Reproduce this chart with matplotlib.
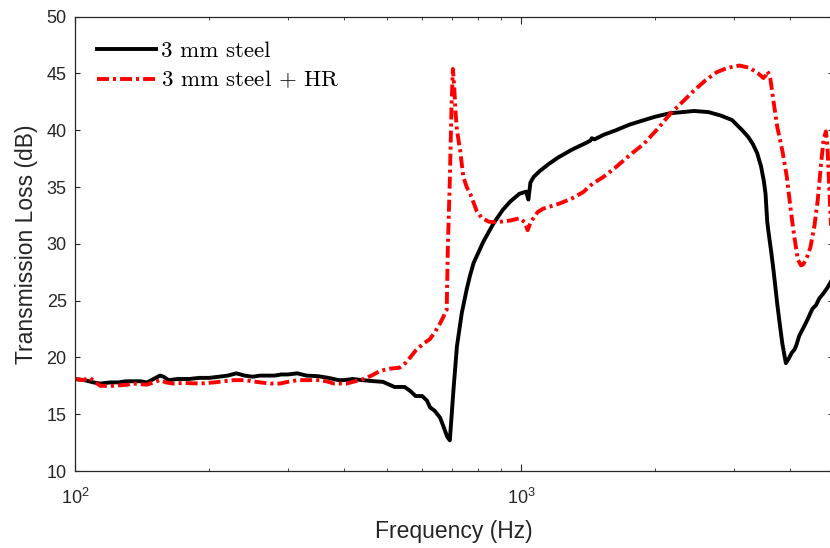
import matplotlib
matplotlib.use("Agg")
import matplotlib.pyplot as plt
from matplotlib.ticker import LogLocator, NullFormatter

# 3 mm steel panel
freq_steel = [100, 105, 110, 114, 120, 125, 130, 135, 140, 145, 150, 155, 158, 162, 170,
              180, 190, 200, 210, 220, 230, 240, 250, 260, 270, 280, 290, 300, 315, 330,
              350, 370, 390, 400, 420, 440, 470, 490, 520, 548, 564, 580, 600, 615, 625,
              640, 658, 670, 683, 692, 706, 718, 736, 755, 768, 782, 823, 867, 910, 944,
              990, 1026, 1038, 1049, 1067, 1100, 1150, 1210, 1300, 1400, 1430, 1440, 1460,
              1530, 1630, 1750, 1887, 2000, 2155, 2300, 2440, 2630, 2800, 2970, 3130, 3230,
              3305, 3380, 3450, 3500, 3530, 3560, 3580, 3640, 3680, 3750, 3800, 3850, 3920,
              3980, 4040, 4100, 4140, 4200, 4290, 4380, 4450, 4500, 4580, 4660, 4750, 4850,
              4950]
tl_steel = [18.1, 18.0, 17.8, 17.7, 17.8, 17.8, 17.9, 17.9, 17.9, 17.8, 18.1, 18.4, 18.3, 18.0, 18.1,
            18.1, 18.2, 18.2, 18.3, 18.4, 18.6, 18.4, 18.3, 18.4, 18.4, 18.4, 18.5, 18.5, 18.6, 18.4,
            18.35, 18.2, 18.0, 18.0, 18.1, 18.0, 17.9, 17.85, 17.4, 17.4, 17.05, 16.6, 16.6, 16.2, 15.6,
            15.3, 14.7, 13.9, 13.0, 12.7, 17.4, 21.0, 23.9, 26.0, 27.2, 28.3, 30.2, 31.8, 33.0, 33.7,
            34.4, 34.6, 33.9, 35.4, 35.9, 36.4, 37.0, 37.6, 38.3, 38.9, 39.1, 39.3, 39.2,
            39.6, 40.0, 40.5, 40.9, 41.2, 41.5, 41.6, 41.7, 41.6, 41.3, 40.9, 40.0, 39.4,
            38.8, 38.0, 36.8, 35.5, 34.4, 32.0, 31.2, 29.1, 27.6, 24.7, 22.9, 21.2, 19.5,
            19.9, 20.4, 20.7, 21.1, 21.9, 22.6, 23.3, 23.9, 24.3, 24.6, 25.2, 25.6, 26.1,
            26.7]

# 3 mm steel + Helmholtz resonators
freq_hr = [100, 104, 108, 111, 114, 118, 122, 126, 131, 135, 140, 145, 150, 155, 160,
           166, 175, 191, 205, 226, 240, 260, 275, 288, 300, 316, 335, 354, 370, 380,
           406, 425, 443, 462, 482, 505, 534, 550, 564, 580, 603, 624, 640, 658, 670,
           677, 681, 685, 692, 698, 703, 706, 709, 713, 718, 730, 742, 755, 769, 795,
           815, 846, 877, 944, 990, 1020, 1034, 1050, 1089, 1121, 1219, 1300, 1377, 1446,
           1530, 1636, 1750, 1883, 2020, 2165, 2300, 2440, 2590, 2740, 2900, 3087, 3250,
           3400, 3490, 3530, 3560, 3600, 3620, 3680, 3750, 3850, 3940, 4030, 4100, 4170,
           4240, 4290, 4370, 4450, 4540, 4620, 4700, 4760, 4820, 4860, 4900, 4950]
tl_hr = [18.1, 18.0, 18.2, 17.8, 17.5, 17.5, 17.5, 17.55, 17.6, 17.7, 17.65, 17.6, 17.8, 18.0, 17.8,
         17.7, 17.75, 17.7, 17.8, 18.0, 18.0, 17.8, 17.7, 17.7, 17.85, 18.0, 18.0, 18.0, 17.85, 17.7,
         17.7, 17.9, 18.1, 18.4, 18.8, 19.0, 19.1, 19.5, 20.0, 20.6, 21.2, 21.6, 22.2, 23.0, 23.6,
         24.1, 24.2, 29.7, 35.6, 42.0, 45.4, 44.5, 43.3, 41.5, 40.0, 38.2, 35.9, 35.0, 34.4, 32.9,
         32.3, 31.95, 31.9, 32.05, 32.25, 31.9, 31.2, 31.9, 32.8, 33.1, 33.55, 34.0, 34.55, 35.3,
         35.9, 36.8, 37.8, 38.8, 40.1, 41.5, 42.5, 43.5, 44.4, 45.1, 45.5, 45.7, 45.5,
         45.0, 44.6, 44.8, 45.2, 44.9, 44.5, 42.5, 40.3, 38.2, 35.9, 32.65, 30.5, 28.6,
         28.1, 28.2, 28.8, 29.7, 31.5, 33.8, 37.0, 39.1, 39.9, 38.5, 35.3, 31.5]

labels = ["3 mm steel", r"3 mm steel $+$ HR"]
x_limits = (100, 5000)
y_limits = (10, 50)
y_ticks = [10, 15, 20, 25, 30, 35, 40, 45, 50]


def main() -> None:
    plt.rcParams.update(
        {
            "font.family": "Liberation Sans",
            "mathtext.fontset": "cm",
            "lines.scale_dashes": False,
            "axes.linewidth": 0.9,
        }
    )
    ink = "#262626"

    fig = plt.figure(figsize=(8.3, 5.48), dpi=100)
    ax = fig.add_axes([75 / 830, 1 - 471 / 548, 758 / 830, (471 - 16.7) / 548])

    ax.plot(freq_steel, tl_steel, color="black", linewidth=2.8, label=labels[0])
    ax.plot(freq_hr, tl_hr, color="red", linewidth=2.8,
            linestyle=(0, (8.6, 2.9, 2.2, 2.9)), label=labels[1])

    ax.set_xscale("log")
    ax.set_xlim(*x_limits)
    ax.set_ylim(*y_limits)
    ax.set_yticks(y_ticks)
    ax.xaxis.set_major_locator(LogLocator(base=10))
    ax.xaxis.set_minor_locator(LogLocator(base=10, subs=range(2, 10)))
    ax.xaxis.set_minor_formatter(NullFormatter())

    ax.tick_params(axis="both", which="both", direction="in", top=True, right=True,
                   colors=ink, labelsize=13)
    ax.tick_params(axis="x", which="major", length=5, pad=12)
    ax.tick_params(axis="x", which="minor", length=2.5)
    ax.tick_params(axis="y", which="major", length=3.6, pad=6)
    for spine in ax.spines.values():
        spine.set_color(ink)

    ax.set_xlabel("Frequency (Hz)", fontsize=16.5, color=ink, labelpad=9)
    ax.set_ylabel("Transmission Loss (dB)", fontsize=16.5, color=ink, labelpad=6)

    leg = ax.legend(loc="upper left", bbox_to_anchor=(0.0286, 0.946), frameon=False,
                    borderpad=0, borderaxespad=0, handlelength=2.6, handletextpad=0.2,
                    labelspacing=0.33, prop={"family": "cmr10", "size": 16.5})
    for text in leg.get_texts():
        text.set_color("black")

    fig.savefig("out.png", dpi=100)
    plt.close(fig)


if __name__ == "__main__":
    main()
